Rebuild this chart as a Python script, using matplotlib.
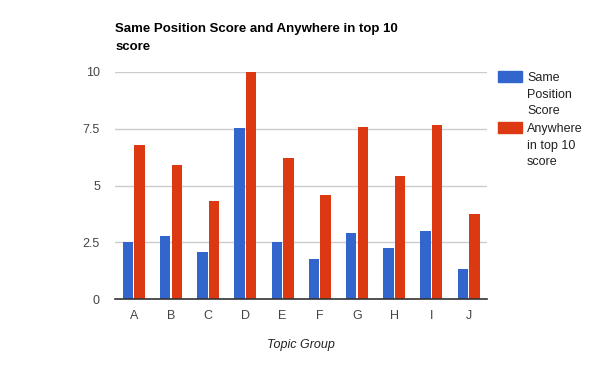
import numpy as np
import matplotlib
matplotlib.use("Agg")
import matplotlib.pyplot as plt
from matplotlib.patches import Rectangle

plt.rcParams['font.family'] = ['Liberation Sans', 'DejaVu Sans']

groups = ['A', 'B', 'C', 'D', 'E', 'F', 'G', 'H', 'I', 'J']
same_pos = [2.5, 2.77, 2.07, 7.52, 2.5, 1.76, 2.9, 2.24, 2.99, 1.32]
anywhere = [6.77, 5.89, 4.31, 10.0, 6.2, 4.57, 7.57, 5.41, 7.65, 3.74]
yticks = [0, 2.5, 5, 7.5, 10]
ylabels = ['0', '2.5', '5', '7.5', '10']

blue = '#3366cc'
red = '#dc3912'

fig = plt.figure(figsize=(6, 3.71), dpi=100)
ax = fig.add_axes([0.192, 0.194, 0.62, 0.612])

x = np.arange(len(groups))
w = 0.28
ax.bar(x - 0.155, same_pos, w, color=blue, zorder=3)
ax.bar(x + 0.155, anywhere, w, color=red, zorder=3)

ax.set_xlim(-0.5, len(groups) - 0.5)
ax.set_ylim(0, 10)
ax.set_yticks(yticks)
ax.set_yticklabels(ylabels)
ax.set_xticks(x)
ax.set_xticklabels(groups)
ax.tick_params(length=0, labelsize=9, colors='#444444')
ax.tick_params(axis='y', pad=11)
ax.tick_params(axis='x', pad=8)
ax.yaxis.grid(True, color='#cccccc', linewidth=1, zorder=0)
ax.set_axisbelow(True)
for s in ['top', 'right', 'left']:
    ax.spines[s].set_visible(False)
ax.spines['bottom'].set_color('#333333')
ax.spines['bottom'].set_linewidth(1.2)
ax.spines['bottom'].set_zorder(4)

ax.set_xlabel('Topic Group', fontstyle='italic', fontsize=9, color='#222222', labelpad=12)

fig.text(0.192, 1 - 23 / 371, 'Same Position Score and Anywhere in top 10\nscore',
         fontsize=9.5, fontweight='bold', va='top', ha='left', linespacing=1.62)

# legend
fig.patches.append(Rectangle((498 / 600, 1 - 82 / 371), 24 / 600, 11 / 371,
                             color=blue, transform=fig.transFigure))
fig.text(527 / 600, 1 - 72 / 371, 'Same\nPosition\nScore', fontsize=9,
         color='#222222', va='top', ha='left', linespacing=1.5)
fig.patches.append(Rectangle((498 / 600, 1 - 133 / 371), 24 / 600, 11 / 371,
                             color=red, transform=fig.transFigure))
fig.text(527 / 600, 1 - 123 / 371, 'Anywhere\nin top 10\nscore', fontsize=9,
         color='#222222', va='top', ha='left', linespacing=1.5)

fig.savefig('out.png', dpi=100)
